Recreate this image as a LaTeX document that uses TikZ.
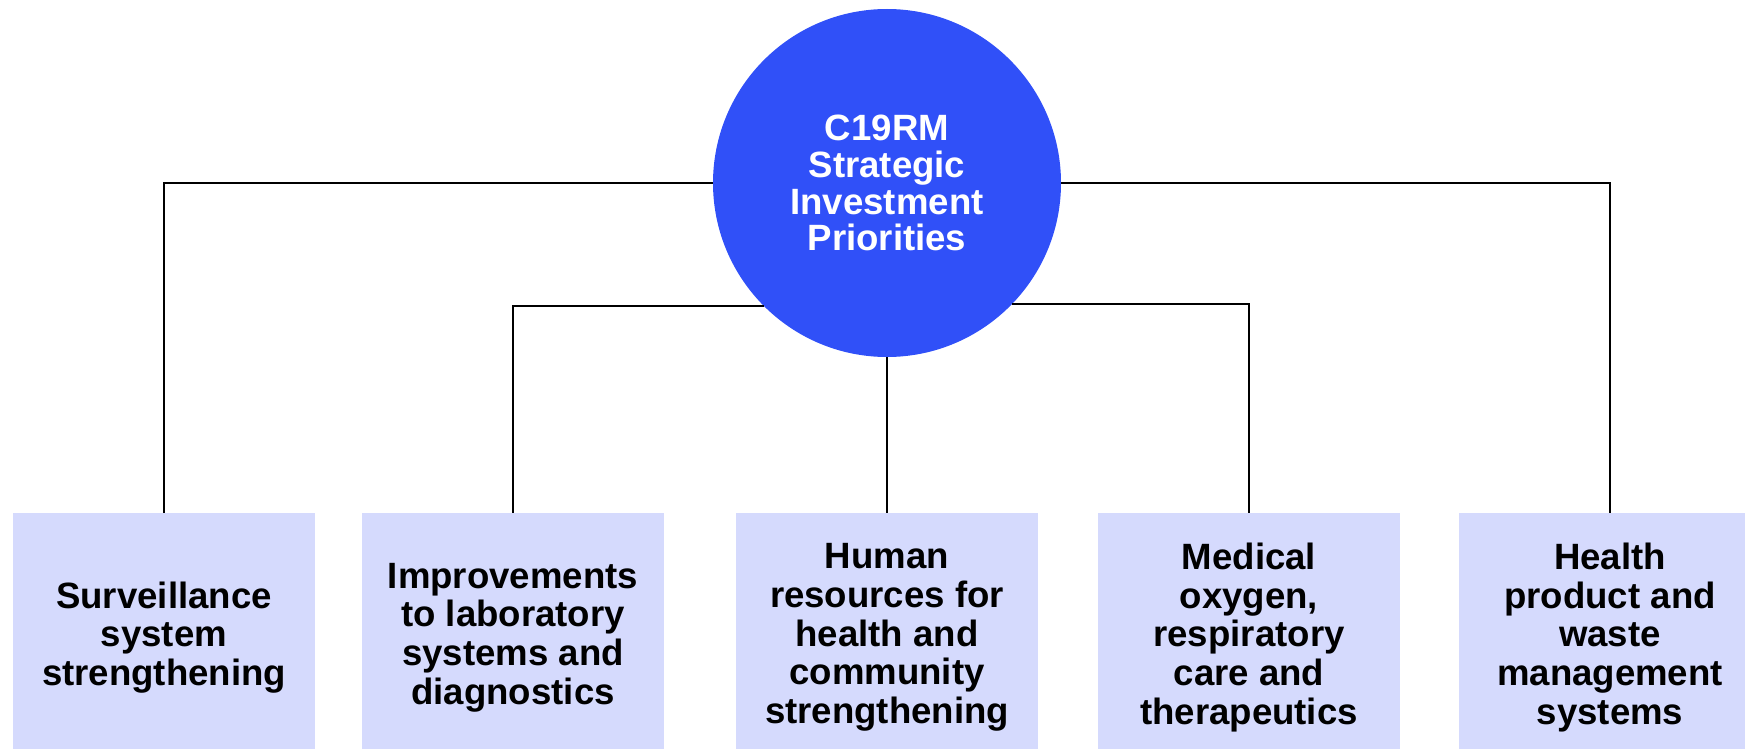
\documentclass[tikz,border=0pt]{standalone}
\usepackage{fontspec}
\setmainfont{Liberation Sans}
\usetikzlibrary{positioning}

\definecolor{hubblue}{RGB}{48,80,248}
\definecolor{boxlilac}{RGB}{213,218,253}

\tikzset{
    hub/.style = {circle, fill = hubblue, text = white, minimum size = 174pt, inner sep = 0pt, align = center, font = \bfseries\fontsize{18.3}{18.4}\selectfont},
    priority/.style = {fill = boxlilac, minimum width = 151pt, minimum height = 124pt, inner sep = 0pt, anchor = north, align = center, font = \bfseries\fontsize{18.3}{19.3}\selectfont},
    link/.style = {black, line width = 1pt}
}

\begin{document}
\begin{tikzpicture}[x = 0.5pt, y = -0.5pt]
            \useasboundingbox (0, 0) rectangle (1745, 749);
            \clip (0, 0) rectangle (1745, 749);
            
            \node[hub] (hub) at (887, 183) {C19RM\\Strategic\\Investment\\Priorities};
            
            \node[priority] (surveillance) at (164, 513) {Surveillance\\system\\strengthening};
            \node[priority] (laboratory) at (513, 513) {Improvements\\to laboratory\\systems and\\diagnostics};
            \node[priority] (hrh) at (887, 513) {Human\\resources for\\health and\\community\\strengthening};
            \node[priority] (oxygen) at (1249, 513) {Medical\\oxygen,\\respiratory\\care and\\therapeutics};
            \node[priority] (waste) at (1610, 513) {Health\\product and\\waste\\management\\systems};
            
            \draw[link] (hub.west) -| (surveillance.north);
            \draw[link] (hub.225) -| (laboratory.north);
            \draw[link] (hub.south) -- (hrh.north);
            \draw[link] (hub.316) -| (oxygen.north);
            \draw[link] (hub.east) -| (waste.north);
        \end{tikzpicture}
\end{document}
